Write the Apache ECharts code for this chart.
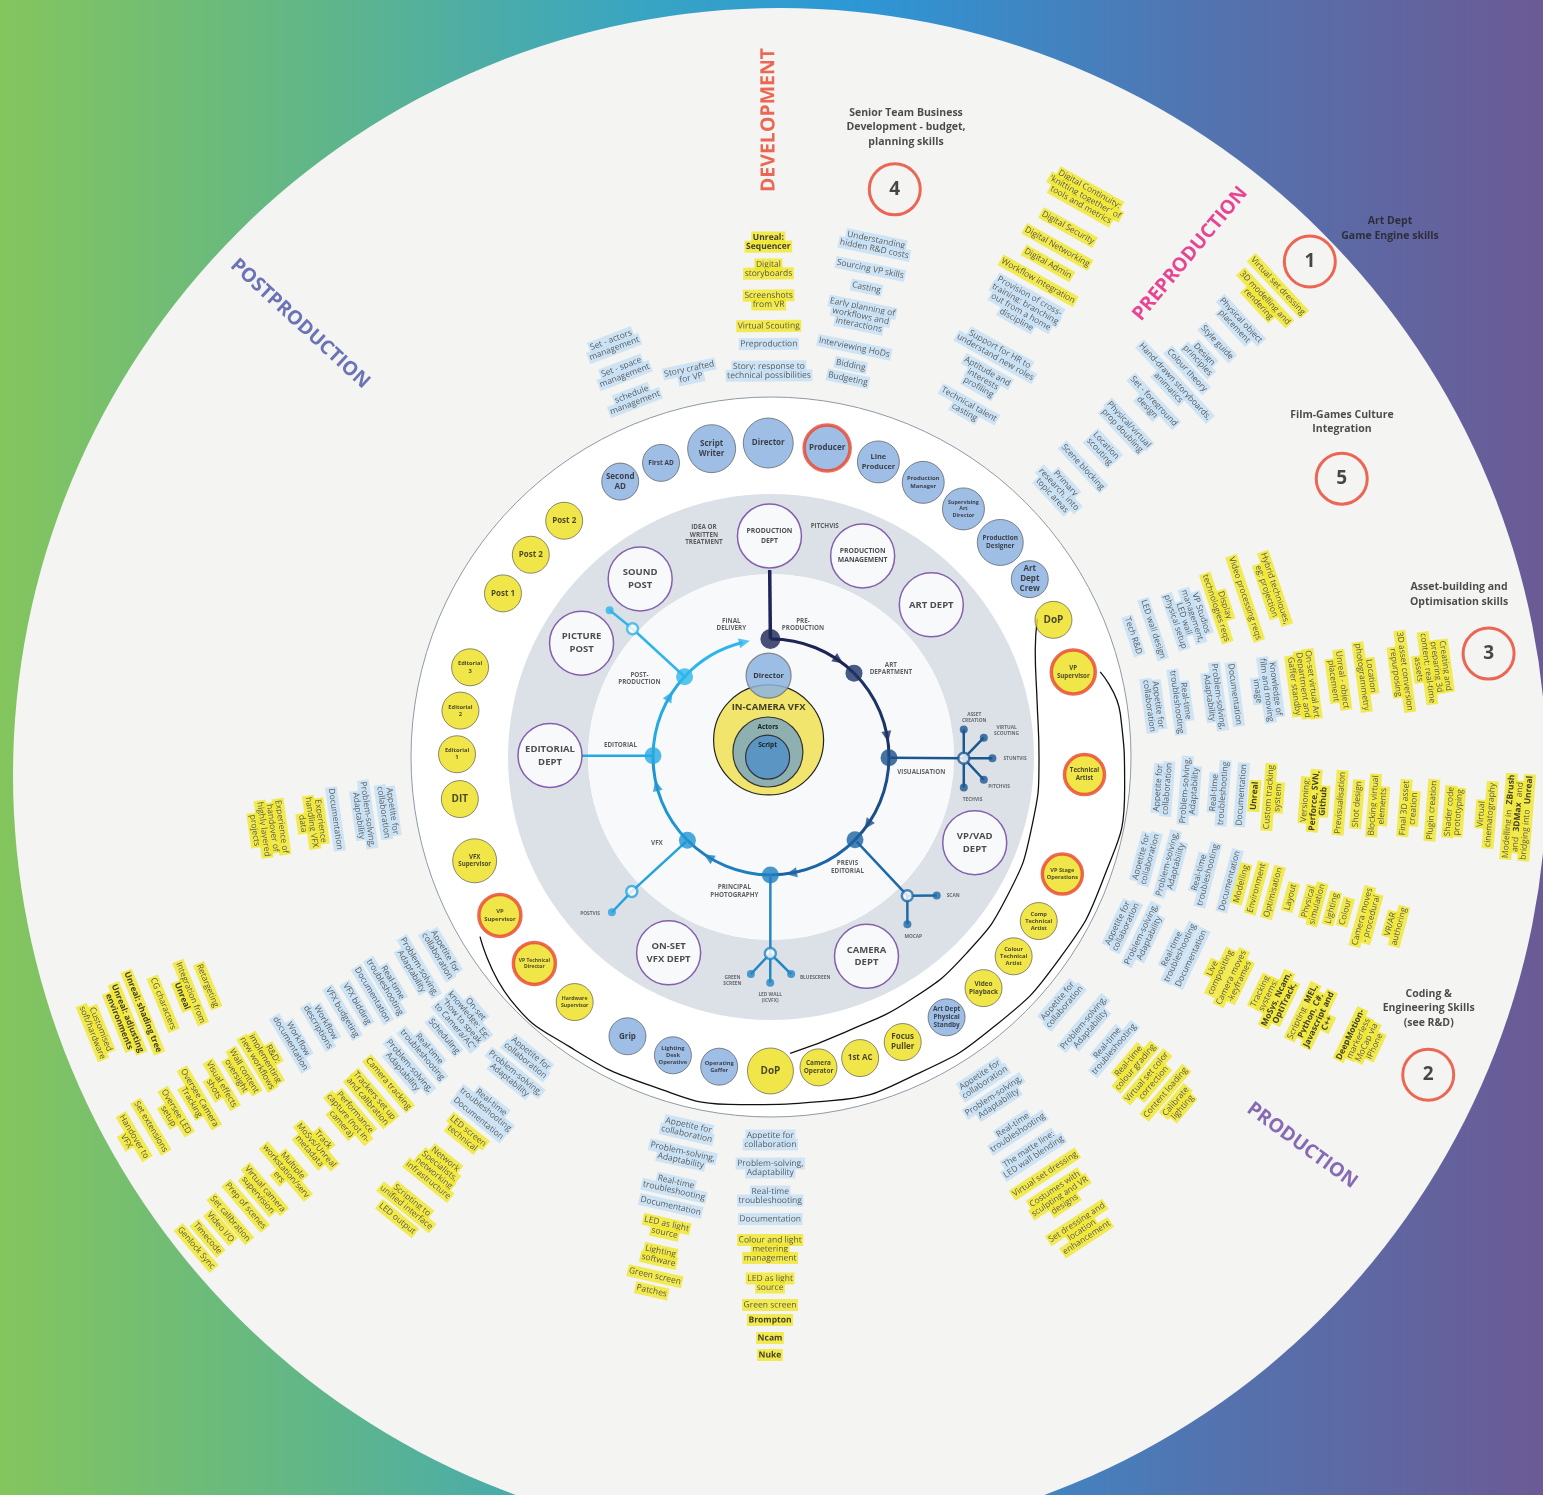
<!DOCTYPE html>
<html>
<head>
<meta charset="utf-8">
<title>Virtual production skills wheel</title>
<script src="https://cdn.jsdelivr.net/npm/echarts@6/dist/echarts.min.js"></script>
<style>
html, body { margin: 0; padding: 0; }
#chart { width: 1543px; height: 1495px; }
</style>
</head>
<body>
<div id="chart"></div>
<script>
// every mark sits on the polar grid: [radius in px from the hub, angle in degrees ccw from east]
// skill rays: items are [label, radius, highlighted]; *text* = bold
var devAngle = 90.3;
var devItems = [
    ['Story: response to\ntechnical possibilities', 386, 0], ['Preproduction', 413, 0], ['Virtual Scouting', 431, 1],
    ['Screenshots\nfrom VR', 457, 1], ['Digital\nstoryboards', 488, 1], ['*Unreal:*\n*Sequencer*', 515, 1]
];
var storyAngle = 101.9;
var storyItems = [['Story crafted\nfor VP', 392, 0]];
var setAngle = 111;
var setItems = [['schedule\nmanagement', 384, 0], ['Set - space\nmanagement', 413, 0], ['Set - actors\nmanagement', 442, 0]];
var bizAngle = 78.5;
var bizItems = [
    ['Budgeting', 386, 0], ['Bidding', 400, 0], ['Interviewing HoDs', 418, 0], ['Early planning of\nworkflows and\ninteractions', 450, 0],
    ['Casting', 479, 0], ['Sourcing VP skills', 498, 0], ['Understanding\nhidden R&D costs', 523, 0]
];
var digiAngle = 60.7;
var digiItems = [
    ['Technical talent\ncasting', 400, 0], ['Aptitude and\ninterests\nprofiling', 433, 0], ['Support for HR to\nunderstand new roles', 463, 0],
    ['Provision of cross-\ntraining: branching\nout from a home\ndiscipline', 515, 0], ['Workflow integration', 546, 1],
    ['Digital Admin', 566, 1], ['Digital Networking', 585, 1], ['Digital Security', 607, 1],
    ['Digital Continuity:\n\'knitting together\' of\ntools and metrics', 642, 1]
];
var artAngle = 42.9;
var artItems = [
    ['Primary\nresearch, into\ntopic areas', 393, 0], ['Scene blocking', 426, 0], ['Location\nscouting', 453, 0],
    ['Physical/virtual\nprop doubling', 484, 0], ['Set - foreground\ndesign', 518, 0], ['Hand-drawn storyboards,\nanimatics', 547, 0],
    ['Colour theory', 568, 0], ['Design\nprinciples', 587, 0], ['Style guide', 609, 0], ['Physical object\nplacement', 637, 0],
    ['3D modelling and\nrendering', 670, 1], ['Virtual set dressing', 692, 1]
];
var techAngle = 18.5;
var techItems = [
    ['Tech R&D', 382, 0], ['LED wall design', 403, 0], ['VP Studios\nmanagement,\nLED wall\nphysical setup', 440, 0],
    ['Display\ntechnologies reqs', 474, 1], ['Video processing reqs', 500, 1], ['Hybrid techniques,\neg: projection', 527, 1]
];
var assetAngle = 7.7;
var assetItems = [
    ['Appetite for\ncollaboration', 386, 0], ['Real-time\ntroubleshooting', 414, 0], ['Problem-solving,\nAdaptability', 447, 0],
    ['Documentation', 468, 0], ['Knowledge of\nfilm and moving\nimage', 500, 0], ['On-set virtual Art\nDepartment and\nGaffer standby', 537, 1],
    ['Unreal - object\nplacement', 572, 1], ['Location\nphotogrammetry', 601, 1], ['3D asset conversion\nrepurposing', 635, 1],
    ['Creating and\npreparing 3d\ncontent: real-time\nassets', 667, 1]
];
var pipeAngle = -4.6;
var pipeItems = [
    ['Appetite for\ncollaboration', 393, 0], ['Problem-solving,\nAdaptability', 420, 0], ['Real-time\ntroubleshooting', 449, 0],
    ['Documentation', 472, 0], ['*Unreal*', 485, 1], ['Custom tracking\nsystem', 504, 1], ['Versioning:\n*Perforce, SVN,*\n*Github*', 545, 1],
    ['Previsualisation', 571, 1], ['Shot design', 588, 1], ['Blocking virtual\nelements', 609, 1], ['Final 3D asset\ncreation', 640, 1],
    ['Plugin creation', 663, 1], ['Shader code\nprototyping', 685, 1], ['Virtual\ncinematography', 717, 1],
    ['Modelling in *ZBrush*\nand *3DMax* and\nbridging into *Unreal*', 749, 1]
];
var envAngle = -15.1;
var envItems = [
    ['Appetite for\ncollaboration', 388, 0], ['Problem-solving,\nAdaptability', 415, 0], ['Real-time\ntroubleshooting', 448, 0],
    ['Documentation', 475, 0], ['Modelling', 487, 1], ['Environment', 503, 1], ['Optimisation', 520, 1], ['Layout', 538, 1],
    ['Physical\nsimulation', 561, 1], ['Lighting', 581, 1], ['Colour', 595, 1], ['Camera moves\n- procedural', 617, 1], ['VR/AR\nauthoring', 646, 1]
];
var codeAngle = -25.6;
var codeItems = [
    ['Appetite for\ncollaboration', 389, 0], ['Problem-solving,\nAdaptability', 415, 0], ['Real-time\ntroubleshooting', 449, 0],
    ['Documentation', 466, 0], ['Live\ncompositing', 494, 1], ['Camera moves\n-keyframes', 515, 1],
    ['Tracking\nsystems:\n*MoSys, Ncam,*\n*OptiTrack,*', 556, 1], ['Scripting *MEL,*\n*Python, C#,*\n*Javascript and*\n*C++*', 603, 1],
    ['*DeepMotion-*\nmarkerless\nMoCap via\niPhone', 656, 1]
];
var gradeAngle = -40.4;
var gradeItems = [
    ['Appetite for\ncollaboration', 381, 0], ['Problem-solving,\nAdaptability', 415, 0], ['Real-time\ntroubleshooting', 446, 0],
    ['Real-time\ncolour grading', 474, 1], ['Virtual set color\ncorrection', 498, 1], ['Content loading', 518, 1], ['Calibrate\nlighting', 536, 1]
];
var dressAngle = -56.7;
var dressItems = [
    ['Appetite for\ncollaboration', 385, 0], ['Problem-solving,\nAdaptability', 410, 0], ['Real-time\ntroubleshooting', 445, 0],
    ['The matte line:\nLED wall blending', 474, 0], ['Virtual set dressing', 499, 1], ['Costumes with\nsculpting and VR\ndesigns', 526, 1],
    ['Set dressing and\nlocation\nenhancement', 566, 1]
];
var lightAngle = -90.1;
var lightItems = [
    ['Appetite for\ncollaboration', 383, 0], ['Problem-solving,\nAdaptability', 411, 0], ['Real-time\ntroubleshooting', 439, 0],
    ['Documentation', 462, 0], ['Colour and light\nmetering\nmanagement', 492, 1], ['LED as light\nsource', 526, 1],
    ['Green screen', 548, 1], ['*Brompton*', 563, 1], ['*Ncam*', 581, 1], ['*Nuke*', 598, 1]
];
var gafferAngle = -102.6;
var gafferItems = [
    ['Appetite for\ncollaboration', 382, 0], ['Problem-solving,\nAdaptability', 409, 0], ['Real-time\ntroubleshooting', 440, 0],
    ['Documentation', 460, 0], ['LED as light\nsource', 483, 1], ['Lighting\nsoftware', 511, 1], ['Green screen', 532, 1], ['Patches', 547, 1]
];
var ledAngle = -129;
var ledItems = [
    ['Appetite for\ncollaboration', 386, 0], ['Problem-solving,\nAdaptability', 411, 0], ['Real-time\ntroubleshooting', 449, 0],
    ['Documentation', 465, 0], ['LED screen\ntechnical', 486, 1], ['Network\nSpecialists,\nnetworking\ninfrastructure', 531, 1],
    ['Scripting to\nunified interface', 575, 1], ['LED output', 594, 1]
];
var trackAngle = -139.5;
var trackItems = [
    ['On-set\nknowledge: Eg:\n"how to speak\nto Camera/AC"', 402, 0], ['Scheduling', 430, 0], ['Real-time\ntroubleshooting', 454, 0],
    ['Problem-solving,\nAdaptability', 480, 0], ['Camera tracking', 503, 1], ['Trackers set up\nand calibration', 526, 1],
    ['Performance\ncapture (not in-\ncamera)', 556, 1], ['Track\nMoSys/Unreal\nmetadata', 598, 1], ['Multiple\nworkstation/serv\ners', 638, 1],
    ['Virtual camera\nsupervision', 670, 1], ['Prep of scenes', 691, 1], ['Set calibration', 711, 1], ['Video I/O', 724, 1],
    ['Timecode', 741, 1], ['Genlock Sync', 756, 1]
];
var vfxAngle = -149.2;
var vfxItems = [
    ['Appetite for\ncollaboration', 384, 0], ['Problem-solving,\nAdaptability', 414, 0], ['Real-time\ntroubleshooting', 445, 0],
    ['Documentation', 464, 0], ['VFX bidding', 482, 0], ['VFX budgeting', 499, 0], ['Workflow\ndescriptions', 523, 0],
    ['Workflow\ndocumentation', 555, 0], ['R&D:\nimplementing\nnew workflows', 589, 1], ['Wall content\noversight', 618, 1],
    ['Visual effects\nshots', 644, 1], ['Oversee Camera\nTracking', 670, 1], ['Oversee LED\nsetup', 697, 1], ['Set extensions', 722, 1],
    ['Handover to\nVFX', 746, 1]
];
var unrealAngle = -157.9;
var unrealItems = [
    ['Retargeting', 608, 1], ['Integration from\n*Unreal*', 631, 1], ['CG characters', 656, 1], ['*Unreal: shading tree*', 678, 1],
    ['*Unreal: adjusting*\n*environments*', 699, 1], ['Customised\nsoft/hardware', 728, 1]
];
var editAngle = -171.9;
var editItems = [
    ['Appetite for\ncollaboration', 387, 0], ['Problem-solving,\nAdaptability', 412, 0], ['Documentation', 440, 0],
    ['Experience\nhandling VFX\ndata', 464, 1], ['Experience of\nhandover of\nhighly layered\nprojects', 508, 1]
];

// crew ring (all at radius 314)
var ringNames = ['Second\nAD', 'First AD', 'Script\nWriter', 'Director', 'Producer', 'Line\nProducer', 'Production\nManager',
    'Supervising\nArt\nDirector', 'Production\nDesigner', 'Art\nDept\nCrew', 'DoP', 'VP\nSupervisor', 'Technical\nArtist',
    'VP Stage\nOperations', 'Comp\nTechnical\nArtist', 'Colour\nTechnical\nArtist', 'Video\nPlayback', 'Art Dept\nPhysical\nStandby',
    'Focus\nPuller', '1st AC', 'Camera\nOperator', 'DoP', 'Operating\nGaffer', 'Lighting\nDesk\nOperative', 'Grip',
    'Hardware\nSupervisor', 'VP Technical\nDirector', 'VP\nSupervisor', 'VFX\nSupervisor', 'DIT', 'Editorial\n1', 'Editorial\n2',
    'Editorial\n3', 'Post 1', 'Post 2', 'Post 2'];
var ringAngles = [118.7, 110.5, 100.9, 90.5, 79.7, 70, 61, 52.2, 43.1, 34.5, 25.9, 15.7, -3.2, -21.9, -31.5, -39.4, -47.4, -56,
    -65.2, -73.5, -81.3, -90.1, -99.5, -108.2, -117.2, -128.7, -138.9, -149.7, -160.7, -172.3, 179.5, 171.5, 163.4, 148.6, 139.9, 131.2];
var ringYellow = [0, 0, 0, 0, 0, 0, 0, 0, 0, 0, 1, 1, 1, 1, 1, 1, 1, 0, 1, 1, 1, 1, 0, 0, 0, 1, 1, 1, 1, 1, 1, 1, 1, 1, 1, 1];
var ringLead = [0, 0, 0, 0, 1, 0, 0, 0, 0, 0, 0, 1, 1, 1, 0, 0, 0, 0, 0, 0, 0, 0, 0, 0, 0, 0, 1, 1, 0, 0, 0, 0, 0, 0, 0, 0];

// departments (radius 221)
var deptNames = ['PRODUCTION\nDEPT', 'PRODUCTION\nMANAGEMENT', 'ART DEPT', 'VP/VAD\nDEPT', 'CAMERA\nDEPT', 'ON-SET\nVFX DEPT',
    'EDITORIAL\nDEPT', 'PICTURE\nPOST', 'SOUND\nPOST'];
var deptAngles = [90.4, 65.5, 43.5, -22.8, -64.4, -117.6, 179.6, 149, 126.3];

// workflow cycle (radius 118)
var cycleAngles = [90.3, 45.3, -0.4, -44.6, -90.3, -135.1, 179.4, 137.1];
var finalAngle = 104;
var arrowAngles = [55, 10, -35, -80, -122, -166, 149, 103];
var stageLabels = [['PRE-\nPRODUCTION', 136, 76.4], ['FINAL\nDELIVERY', 138, 106.7], ['ART\nDEPARTMENT', 149, 36.4],
    ['VISUALISATION', 151, -5.7], ['PREVIS\nEDITORIAL', 134, -55.2], ['PRINCIPAL\nPHOTOGRAPHY', 139, -105.3], ['VFX', 143, -142.9],
    ['EDITORIAL', 151, 175.5], ['POST-\nPRODUCTION', 153, 149.3], ['IDEA OR\nWRITTEN\nTREATMENT', 232, 106.8], ['PITCHVIS', 237, 76.9]];
var branchLabels = [['ASSET\nCREATION', 207, 11], ['VIRTUAL\nSCOUTING', 237, 6.4], ['STUNTVIS', 244, -0.3], ['PITCHVIS', 230, -7.4],
    ['TECHVIS', 206, -11.9], ['SCAN', 229, -37.3], ['MOCAP', 229, -51.6], ['GREEN\nSCREEN', 227, -99.8], ['LED WALL\n(ICVFX)', 241, -90.2],
    ['BLUESCREEN', 225, -78.7], ['POSTVIS', 239, -139.2]];
var branchPre = [[118, 90.3], [187, 90.4]];
var branchEdit = [[118.5, 179.4], [189, 179.6]];
var branchVis = [[117.4, -0.4], [192.8, -0.4]];
var spokesVis = [[194.7, 8.1], [213.7, 5.2], [221.4, -0.3], [214, -6.1], [195.2, -9.0]];
var branchPrevis = [[120.4, -44.6], [194.5, -45.5]];
var spokesPrevis = [[216, -39.9], [215.8, -50.8]];
var branchPrinc = [[119.7, -90.3], [196.5, -90.2]];
var spokesPrinc = [[218, -95.3], [225.8, -90.2], [218, -84.7]];
var branchVfx = [[119.9, -135.1], [193.5, -136]];
var spokesVfx = [[222.3, -135.7]];
var branchPost = [[116, 137.1], [188.7, 137.2]];
var spokesPost = [[218.2, 137.7]];

// brackets joining the crew bubbles
var innerBracket = [[300, 27.4], [285, 22], [272, 12], [268, 0], [270, -15], [274, -30], [277, -45], [280, -60], [285, -75], [297, -86.3]];
var outerBracket = [[340, 14.5], [352, 7], [355, -5], [354, -20], [352, -35], [350, -50], [349, -65], [349, -80], [349, -95],
    [350, -110], [353, -125], [356, -137], [342, -148.3]];

// phase titles and numbered skill areas
var sectionNames = ['DEVELOPMENT', 'PREPRODUCTION', 'POSTPRODUCTION', 'PRODUCTION'];
var sectionR = [637, 655, 640, 658];
var sectionAngles = [90.2, 50.2, 137.4, -36.2];
var headingTexts = ['Senior Team Business\nDevelopment - budget,\nplanning skills', 'Art Dept\nGame Engine skills',
    'Film-Games Culture\nIntegration', 'Asset-building and\nOptimisation skills', 'Coding &\nEngineering Skills\n(see R&D)'];
var headingR = [644, 814, 662, 707, 704];
var headingAngles = [77.9, 40.5, 30.4, 13.3, -20.9];
var numberLabels = ['4', '1', '5', '3', '2'];
var numberR = [581, 732, 635, 725, 730];
var numberAngles = [77.7, 42.6, 26.0, 8.2, -25.8];

// core
var coreNames = ['', 'Actors', 'Script', 'Director'];
var coreR = [17.2, 5.9, 3.4, 81.4];
var coreAngles = [98, 121.8, 183, 91.7];

var FONT = '"Open Sans", "Noto Sans", sans-serif';
var BLUE = '#c4e0f5', YELLOW = '#f1e72a';
var NODE_B = '#87aee0', NODE_Y = '#eee01c', RED = '#e8432c';
var C = [771, 757];
var ringSizes = [37, 37, 48, 50, 46, 42, 42, 42, 46, 37, 37, 44, 40, 40, 37, 37, 37, 37, 37, 37, 37, 46, 37, 37, 37, 37, 42, 42, 44,
    37, 37, 37, 37, 37, 37, 37];
var cycleColors = ['#1c2556', '#1d3366', '#1b4f8a', '#1c64a3', '#1d7fc0', '#1f95d3', '#25a9e2', '#2eb6ea'];
var sectionColors = ['#e8432a', '#e3197c', '#4753a6', '#6c47a5'];
var coreStyle = [
    { size: 110, color: '#f1e56e', border: '#222' }, { size: 70, color: '#8fb0b0', border: '#333' },
    { size: 44, color: '#5b95c4', border: '#333' }, { size: 45, color: '#8db4df', border: '#777', opacity: 0.85 }
];

function norm(a) { return ((a % 360) + 360) % 360; }
function pt(r, a) { return [r, norm(a)]; }
function tangentRot(a) { var r = a - 90; while (r > 90) r -= 180; while (r <= -90) r += 180; return r; }
function radialRot(a) { var r = a; while (r >= 91) r -= 180; while (r < -89) r += 180; return r; }
function longest(t) { return Math.max.apply(null, t.split('\n').map(function (l) { return l.length; })); }
function nameOf(p) { return p.name; }

// each line gets its own highlight strip, like a marker pen
function highlight(text, yellow) {
    var plain = yellow ? 'y' : 'b';
    return text.split('\n').map(function (line) {
        return line.split('*').map(function (seg, j) {
            if (!seg) return '';
            return '{' + plain + (j % 2 ? 'k' : '') + '|' + seg + '}';
        }).join('');
    }).join('\n');
}
function strip(bg, weight, color) {
    return { backgroundColor: bg, fontFamily: FONT, fontSize: 8.5, lineHeight: 9, fontWeight: weight, color: color, padding: [1.5, 1.5] };
}

var chart = echarts.init(document.getElementById('chart'));

var skillGroups = [
    [devAngle, devItems], [storyAngle, storyItems], [setAngle, setItems], [bizAngle, bizItems], [digiAngle, digiItems],
    [artAngle, artItems], [techAngle, techItems], [assetAngle, assetItems], [pipeAngle, pipeItems], [envAngle, envItems],
    [codeAngle, codeItems], [gradeAngle, gradeItems], [dressAngle, dressItems], [lightAngle, lightItems],
    [gafferAngle, gafferItems], [ledAngle, ledItems], [trackAngle, trackItems], [vfxAngle, vfxItems],
    [unrealAngle, unrealItems], [editAngle, editItems]
];
var skillData = [];
skillGroups.forEach(function (g) {
    g[1].forEach(function (it) {
        skillData.push({
            name: highlight(it[0], it[2]),
            value: pt(it[1], g[0]),
            label: { rotate: tangentRot(g[0]) }
        });
    });
});

function disc(center, radius, color, border) {
    return {
        type: 'pie', center: center, radius: radius, silent: true, z: 0,
        label: { show: false }, labelLine: { show: false }, emphasis: { disabled: true },
        itemStyle: { color: color, borderColor: border || color, borderWidth: border ? 1 : 0 },
        data: [{ value: 1 }]
    };
}
function textSeries(data, label, z) {
    return {
        type: 'scatter', coordinateSystem: 'polar', symbolSize: 1, silent: true, z: z || 20,
        itemStyle: { color: 'rgba(0,0,0,0)' },
        label: Object.assign({ show: true, position: 'inside', formatter: nameOf, fontFamily: FONT, color: '#222' }, label),
        data: data
    };
}
function nodeSeries(data, z) {
    return {
        type: 'scatter', coordinateSystem: 'polar', silent: true, z: z || 6,
        label: { show: true, position: 'inside', formatter: nameOf, fontFamily: FONT, fontWeight: 'bold', color: '#1e1e1e' },
        data: data
    };
}
function polyline(points, color, width, smooth, z) {
    return {
        type: 'line', coordinateSystem: 'polar', silent: true, showSymbol: false, symbol: 'none', smooth: smooth || false,
        z: z || 3, lineStyle: { color: color, width: width },
        data: points.map(function (p) { return pt(p[0], p[1]); })
    };
}

// workflow ring slices follow the stage angles
var stops = cycleAngles.concat([finalAngle]);
var spans = [];
for (var i = 0; i < stops.length - 1; i++) spans.push(norm(stops[i] - stops[i + 1]));
var used = spans.reduce(function (a, b) { return a + b; }, 0);
var cycleRing = {
    type: 'pie', center: C, radius: [116.5, 119.5], startAngle: cycleAngles[0], clockwise: true, silent: true, z: 2,
    label: { show: false }, labelLine: { show: false }, emphasis: { disabled: true },
    data: spans.map(function (v, i) {
        return { value: v, itemStyle: { color: cycleColors[i], borderWidth: 0 } };
    }).concat([{ value: 360 - used, itemStyle: { color: 'rgba(0,0,0,0)', borderWidth: 0 } }])
};

var branches = [
    [branchVis, spokesVis, '#1b5790'], [branchPrevis, spokesPrevis, '#1d6aa8'], [branchPrinc, spokesPrinc, '#2586c4'],
    [branchVfx, spokesVfx, '#27a2dc'], [branchPost, spokesPost, '#2fb4e8']
];
var branchSeries = [polyline(branchPre, '#1c2556', 3.5), polyline(branchEdit, '#25a9e2', 2.5)];
var hubData = [], tipData = [];
branches.forEach(function (b) {
    var hub = b[0][b[0].length - 1];
    var path = b[0].slice();
    b[1].forEach(function (s) {
        path.push(s, hub);
        tipData.push({ value: pt(s[0], s[1]), itemStyle: { color: b[2] } });
    });
    branchSeries.push(polyline(path, b[2], 2.5));
    hubData.push({ value: pt(hub[0], hub[1]), itemStyle: { color: '#fff', borderColor: b[2], borderWidth: 2.5 } });
});

var ringData = ringNames.map(function (n, i) {
    var s = ringSizes[i];
    var fs = (n === 'DoP' || n === 'DIT') ? 10 : Math.max(5, Math.min(8, s * 1.4 / longest(n)));
    return {
        name: n, value: pt(314, ringAngles[i]), symbolSize: s,
        itemStyle: {
            color: ringYellow[i] ? NODE_Y : NODE_B,
            borderColor: ringLead[i] ? RED : '#4a4a4a', borderWidth: ringLead[i] ? 3.5 : 0.8
        },
        label: { fontSize: fs, lineHeight: fs * 1.25 }
    };
});
var deptData = deptNames.map(function (n, i) {
    var fs = longest(n) >= 10 ? 6.8 : 9.5;
    return {
        name: n, value: pt(221, deptAngles[i]), symbolSize: 64,
        itemStyle: { color: '#fff', borderColor: '#6a3d9e', borderWidth: 1.5 },
        label: { fontSize: fs, lineHeight: fs * 1.35, color: '#222' }
    };
});
var coreData = coreNames.map(function (n, i) {
    var st = coreStyle[i];
    return {
        name: n, value: pt(coreR[i], coreAngles[i]), symbolSize: st.size,
        itemStyle: { color: st.color, borderColor: st.border, borderWidth: 1.2, opacity: st.opacity || 1 },
        label: { fontSize: i === 3 ? 7.5 : 6.5, position: i === 3 ? 'inside' : 'top', distance: -14, color: '#1e1e1e' }
    };
});
var cycleDots = cycleAngles.map(function (a, i) {
    return { value: pt(118, a), symbolSize: i === 0 ? 20 : 17, itemStyle: { color: cycleColors[i] } };
});
var arrowData = arrowAngles.map(function (a, i) {
    return { value: pt(118, a), symbolRotate: a - 180, itemStyle: { color: cycleColors[i] } };
});
var numberData = numberLabels.map(function (n, i) {
    return { name: n, value: pt(numberR[i], numberAngles[i]) };
});

var option = {
    animation: false,
    backgroundColor: new echarts.graphic.LinearGradient(0, 0, 1, 0, [
        { offset: 0, color: '#84c55d' }, { offset: 0.22, color: '#5eb58c' }, { offset: 0.42, color: '#38a4c4' },
        { offset: 0.55, color: '#2c98d6' }, { offset: 0.78, color: '#5274b0' }, { offset: 1, color: '#6b5a95' }
    ]),
    textStyle: { fontFamily: FONT },
    polar: { center: C, radius: 900 },
    angleAxis: { type: 'value', min: 0, max: 360, startAngle: 0, clockwise: false, show: false },
    radiusAxis: { type: 'value', min: 0, max: 900, show: false },
    series: [
        disc([780, 775], [0, 767], '#f4f4f2'),
        disc(C, [0, 360], '#ffffff', '#8e9ba5'),
        disc(C, [183, 263], '#dce1e8'),
        disc(C, [0, 183], '#f8f9fa'),
        cycleRing,
        polyline(innerBracket, '#111', 1.3, 0.5, 4),
        polyline(outerBracket, '#111', 1.3, 0.5, 4)
    ].concat(branchSeries).concat([
        {
            type: 'scatter', coordinateSystem: 'polar', silent: true, z: 5, symbolSize: 8, data: tipData
        },
        {
            type: 'scatter', coordinateSystem: 'polar', silent: true, z: 5, symbolSize: 11, data: hubData
        },
        {
            type: 'scatter', coordinateSystem: 'polar', silent: true, z: 5, data: cycleDots
        },
        {
            type: 'scatter', coordinateSystem: 'polar', silent: true, z: 5, symbol: 'triangle', symbolSize: [10, 11], data: arrowData
        },
        nodeSeries(coreData, 6),
        nodeSeries(deptData, 6),
        nodeSeries(ringData, 6),
        {
            type: 'scatter', coordinateSystem: 'polar', silent: true, z: 6, symbolSize: 51,
            itemStyle: { color: 'rgba(0,0,0,0)', borderColor: RED, borderWidth: 3 },
            label: { show: true, position: 'inside', formatter: nameOf, fontFamily: FONT, fontWeight: 'bold', fontSize: 19, color: '#1a1a1a' },
            data: numberData
        },
        textSeries([{ name: 'IN-CAMERA VFX', value: pt(49.8, 92.8) }], { fontSize: 9.5, fontWeight: 'bold', color: '#111' }),
        textSeries(stageLabels.map(function (s) { return { name: s[0], value: pt(s[1], s[2]) }; }),
            { fontSize: 6.3, lineHeight: 7.5, fontWeight: 'bold', color: '#3a3a3a' }),
        textSeries(branchLabels.map(function (s) { return { name: s[0], value: pt(s[1], s[2]) }; }),
            { fontSize: 4.8, lineHeight: 5.8, fontWeight: 'bold', color: '#4a4a4a' }),
        textSeries(skillData, {
            fontSize: 8.5, lineHeight: 9, color: '#3b3b3b',
            rich: {
                b: strip(BLUE, 'normal', '#383838'), bk: strip(BLUE, 'bold', '#111'),
                y: strip(YELLOW, 'normal', '#333'), yk: strip(YELLOW, 'bold', '#111')
            }
        }, 22),
        textSeries(sectionNames.map(function (n, i) {
            return { name: n, value: pt(sectionR[i], sectionAngles[i]),
                label: { rotate: radialRot(sectionAngles[i]), color: sectionColors[i] } };
        }), { fontSize: 19.5, fontWeight: 'bold' }),
        textSeries(headingTexts.map(function (n, i) {
            return { name: n, value: pt(headingR[i], headingAngles[i]) };
        }), { fontSize: 10.5, lineHeight: 14.5, fontWeight: 'bold', color: '#1f1f1f' })
    ])
};
chart.setOption(option);
</script>
</body>
</html>
